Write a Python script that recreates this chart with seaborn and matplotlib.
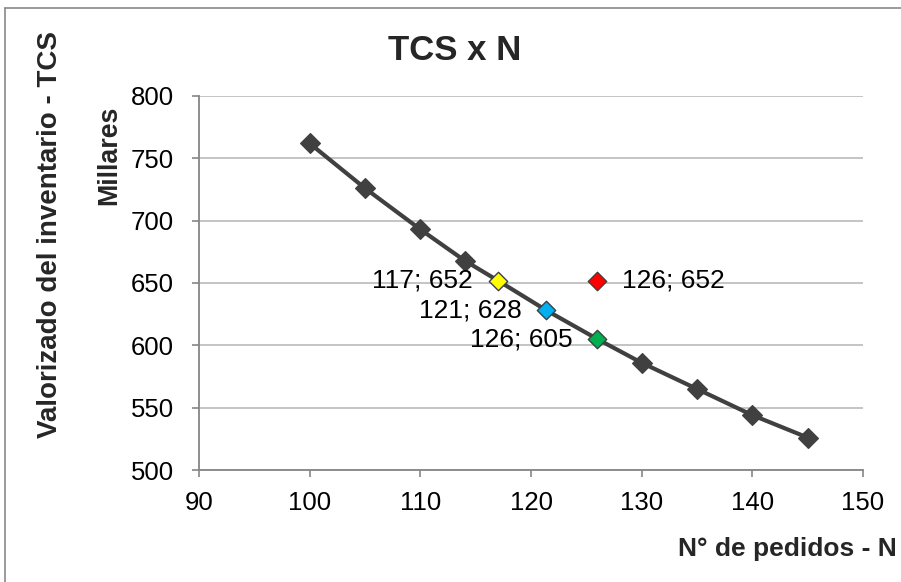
import matplotlib
matplotlib.use("Agg")
import matplotlib.pyplot as plt
from matplotlib.lines import Line2D
import seaborn as sns
import pandas as pd

# Data
n_pedidos = [100, 105, 110, 114, 117, 121.4, 126, 130, 135, 140, 145]
tcs_miles = [762, 726, 693, 668, 652, 628, 605, 586, 565, 544, 526]
dark_mask = [True, True, True, True, False, False, False, True, True, True, True]

special_x = [117, 121.4, 126, 126]
special_y = [652, 628, 605, 652]
special_colors = ["#FFFF00", "#00B0F0", "#00B050", "#FF0000"]
special_labels = ["117; 652", "121; 628", "126; 605", "126; 652"]
special_side = ["left", "left", "left", "right"]

x_ticks = [90, 100, 110, 120, 130, 140, 150]
y_ticks = [500, 550, 600, 650, 700, 750, 800]

title = "TCS x N"
xlabel = "N° de pedidos - N"
ylabel = "Valorizado del inventario - TCS"
ylabel2 = "Millares"

sns.set_theme(style="white")
plt.rcParams["font.family"] = ["Liberation Sans", "DejaVu Sans"]

fig = plt.figure(figsize=(9.01, 5.82), dpi=100)
W, H = 901, 582
ax = fig.add_axes([199 / W, 1 - 470 / H, (863 - 199) / W, (470 - 96) / H])

df = pd.DataFrame({"N": n_pedidos, "TCS": tcs_miles, "dark": dark_mask})
sns.lineplot(data=df, x="N", y="TCS", ax=ax, color="#404040", linewidth=3.0,
             sort=False, zorder=3)
dd = df[df["dark"]]
sns.scatterplot(data=dd, x="N", y="TCS", ax=ax, marker="D", s=100,
                color="#404040", edgecolor="#404040", linewidth=1, zorder=4)

sp = pd.DataFrame({"N": special_x, "TCS": special_y, "c": special_colors})
for _, r in sp.iterrows():
    sns.scatterplot(x=[r["N"]], y=[r["TCS"]], ax=ax, marker="D", s=88,
                    color=r["c"], edgecolor="#404040", linewidth=1.0, zorder=5)

for x, y, lab, side in zip(special_x, special_y, special_labels, special_side):
    off = -18 if side == "left" else 18
    ha = "right" if side == "left" else "left"
    ax.annotate(lab, (x, y), xytext=(off, 0), textcoords="offset points",
                ha=ha, va="center", fontsize=19, color="black", zorder=6)

ax.set_xlim(90, 150)
ax.set_ylim(500, 800)
ax.set_xticks(x_ticks)
ax.set_yticks(y_ticks)
ax.set_xlabel("")
ax.set_ylabel("")
ax.tick_params(axis="both", labelsize=18.5, colors="#868686", labelcolor="black",
               length=5, width=1.2, direction="out")
ax.tick_params(axis="y", pad=13, left=True)
ax.tick_params(axis="x", pad=10, bottom=True)
ax.grid(axis="y", color="#BFBFBF", linewidth=1.3)
ax.set_axisbelow(True)
for s in ["top", "right"]:
    ax.spines[s].set_visible(False)
for s in ["left", "bottom"]:
    ax.spines[s].set_color("#868686")
    ax.spines[s].set_linewidth(1.3)

fig.text(455 / W, 1 - 50 / H, title, ha="center", va="center",
         fontsize=25, fontweight="bold")
fig.text(787 / W, 1 - 549 / H, xlabel, ha="center", va="center",
         fontsize=19, fontweight="bold")
fig.text(50 / W, 1 - 235 / H, ylabel, ha="center", va="center",
         fontsize=20, fontweight="bold", rotation=90)
fig.text(109 / W, 1 - 155 / H, ylabel2, ha="center", va="center",
         fontsize=19.3, fontweight="bold", rotation=90)

# outer chart border (top and left visible)
fig.add_artist(Line2D([5 / W, 1.0], [1 - 8 / H, 1 - 8 / H], transform=fig.transFigure,
                      color="#898989", linewidth=1.2))
fig.add_artist(Line2D([5 / W, 5 / W], [0, 1 - 8 / H], transform=fig.transFigure,
                      color="#898989", linewidth=1.2))

fig.savefig("out.png", dpi=100, facecolor="white")
